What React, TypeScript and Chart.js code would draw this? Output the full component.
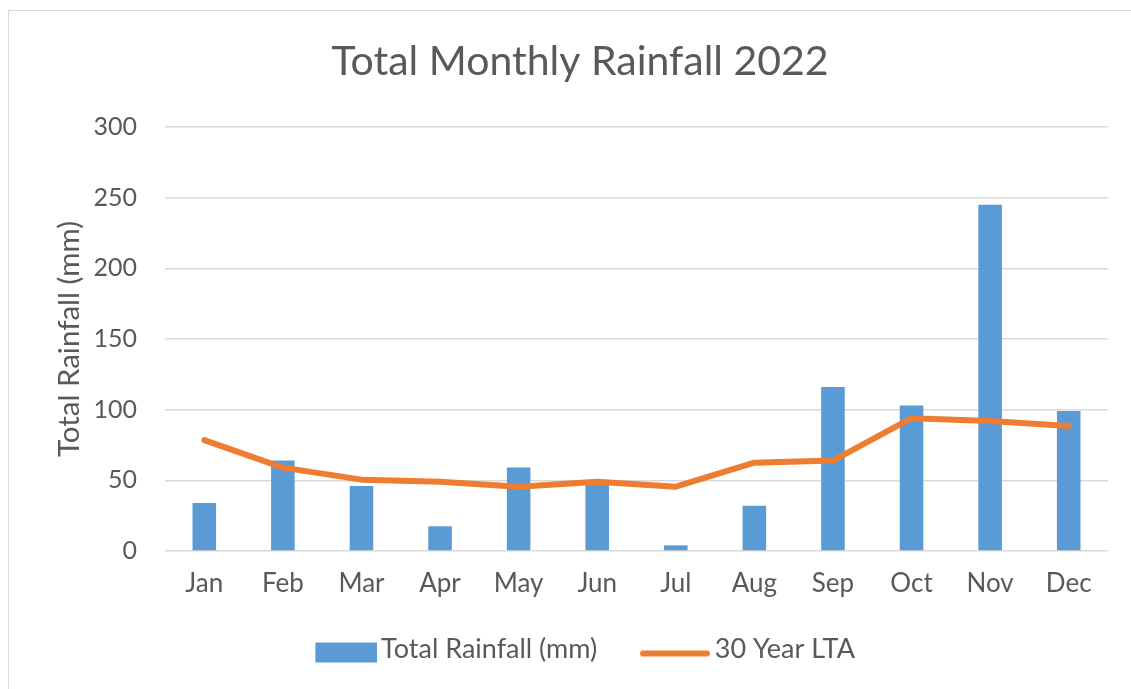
import React, { useEffect, useRef } from "react";
import { Chart, registerables } from "chart.js";

Chart.register(...registerables);

const months = ["Jan", "Feb", "Mar", "Apr", "May", "Jun", "Jul", "Aug", "Sep", "Oct", "Nov", "Dec"];
const totalRainfall = [34, 64, 46, 17.5, 59, 47, 4, 32, 116, 103, 245, 99];
const lta30 = [78.5, 59, 50.5, 49, 45.5, 49, 45.5, 62.5, 64, 94, 92, 88.5];
const yTicks = [0, 50, 100, 150, 200, 250, 300];
const legendPad = ["      ", ""];

const FONT = "Lato, 'Noto Sans', sans-serif";
const TEXT = "#595959";
const GRID = "#d9d9d9";
const BLUE = "#5B9BD5";
const ORANGE = "#ED7D31";

// legend swatch images: box width P = 52.5, text starts at P + fontSize/2
const P = 52.5;
const LEG_FONT = 27;
function swatch(kind: "rect" | "line"): HTMLCanvasElement {
  const c = document.createElement("canvas");
  const W = Math.round(P + 2 * (LEG_FONT / 2 - 4));
  const H = 32;
  c.width = W;
  c.height = H;
  const ctx = c.getContext("2d")!;
  if (kind === "rect") {
    ctx.fillStyle = BLUE;
    ctx.fillRect(W - 62, 9, 62, 20);
  } else {
    ctx.strokeStyle = ORANGE;
    ctx.lineWidth = 6;
    ctx.lineCap = "round";
    ctx.beginPath();
    ctx.moveTo(W - 68, 20);
    ctx.lineTo(W - 4, 20);
    ctx.stroke();
  }
  return c;
}

const legendShift = {
  id: "legendShift",
  afterLayout(c: any) {
    if (c.legend) {
      c.legend.left += 5;
      c.legend.right += 5;
    }
  },
};

export default function App() {
  const ref = useRef<HTMLCanvasElement | null>(null);

  useEffect(() => {
    if (!ref.current) return;
    const imgs = [swatch("rect"), swatch("line")];
    const chart = new Chart(ref.current, {
      type: "bar",
      data: {
        labels: months,
        datasets: [
          {
            type: "bar",
            label: "Total Rainfall (mm)",
            data: totalRainfall,
            backgroundColor: BLUE,
            borderWidth: 0,
            barPercentage: 0.3,
            categoryPercentage: 1,
            order: 1,
          },
          {
            type: "line",
            label: "30 Year LTA",
            data: lta30,
            borderColor: ORANGE,
            backgroundColor: ORANGE,
            borderWidth: 6,
            pointRadius: 0,
            tension: 0,
            borderCapStyle: "round",
            borderJoinStyle: "round",
            order: 0,
          },
        ],
      },
      plugins: [legendShift],
      options: {
        responsive: false,
        animation: false,
        layout: { padding: { top: 11, left: 52, right: 23, bottom: 16 } },
        plugins: {
          tooltip: { enabled: false },
          title: {
            display: true,
            text: "Total Monthly Rainfall 2022",
            color: TEXT,
            font: { family: FONT, size: 41, weight: "normal" },
            padding: { top: 26.4, bottom: 40.4 },
          },
          legend: {
            position: "bottom",
            labels: {
              color: TEXT,
              font: { family: FONT, size: LEG_FONT },
              usePointStyle: true,
              pointStyleWidth: P,
              boxHeight: 20,
              padding: 10,
              generateLabels: (c: any) =>
                c.data.datasets.map((ds: any, i: number) => ({
                  text: ds.label + legendPad[i],
                  fillStyle: ds.backgroundColor,
                  strokeStyle: ds.backgroundColor,
                  lineWidth: 0,
                  pointStyle: imgs[i],
                  fontColor: TEXT,
                  datasetIndex: i,
                  hidden: false,
                })),
            },
          },
        },
        scales: {
          x: {
            grid: { display: false },
            border: { display: false },
            ticks: { color: TEXT, font: { family: FONT, size: 26 }, padding: 9 },
            afterFit: (s: any) => {
              s.height = 75;
            },
          },
          y: {
            min: 0,
            max: 300,
            afterBuildTicks: (s: any) => {
              s.ticks = yTicks.map((v) => ({ value: v }));
            },
            grid: { color: GRID, lineWidth: 1.5, drawTicks: false },
            border: { display: false },
            ticks: { color: TEXT, font: { family: FONT, size: 25 }, padding: 28 },
            title: {
              display: true,
              text: "Total Rainfall (mm)",
              color: TEXT,
              font: { family: FONT, size: 29.5 },
              padding: { top: 0, bottom: 0 },
            },
            afterFit: (s: any) => {
              s.width = 113;
            },
          },
        },
      },
    });
    return () => chart.destroy();
  }, []);

  return (
    <div style={{ position: "fixed", left: 0, top: 0, width: 1131, height: 689, background: "#fff", overflow: "hidden" }}>
      <div
        style={{
          position: "absolute",
          left: 8,
          top: 10,
          width: 1200,
          height: 800,
          borderTop: "1.5px solid #d9d9d9",
          borderLeft: "1.5px solid #d9d9d9",
        }}
      />
      <canvas ref={ref} width={1131} height={689} style={{ position: "absolute", left: 0, top: 0 }} />
    </div>
  );
}
